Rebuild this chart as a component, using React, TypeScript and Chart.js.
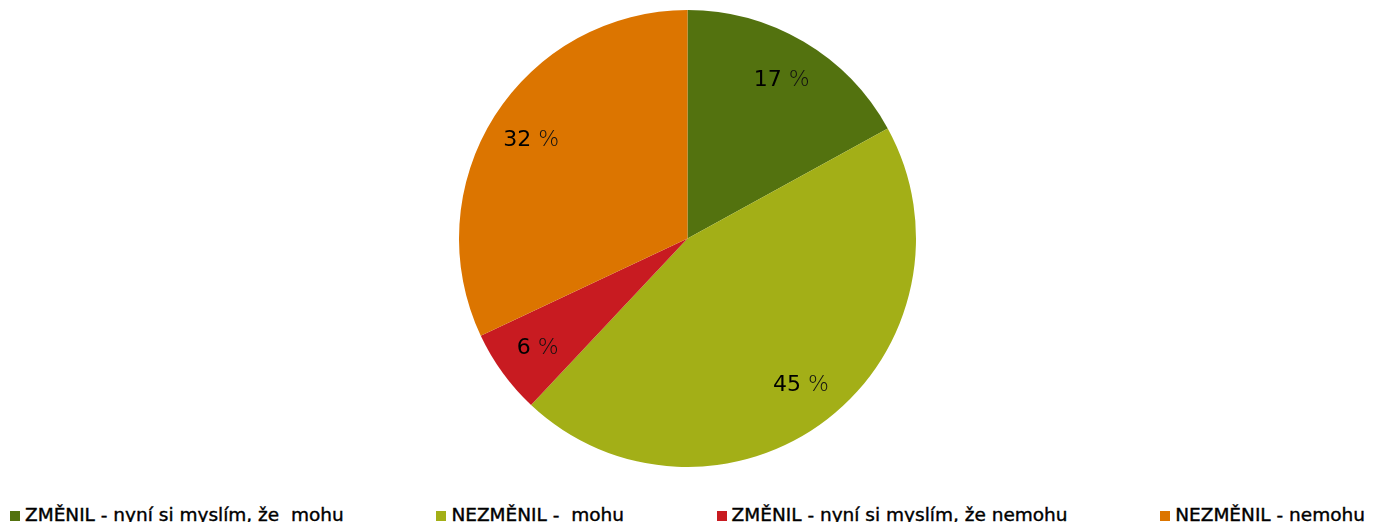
import React, { useEffect, useRef } from "react";
import { Chart, registerables } from "chart.js";

Chart.register(...registerables);

const categories = [
  "ZMĚNIL - nyní si myslím, že  mohu",
  "NEZMĚNIL -  mohu",
  "ZMĚNIL - nyní si myslím, že nemohu",
  "NEZMĚNIL - nemohu",
];
const values = [17, 45, 6, 32];
const colors = ["#53720F", "#A3AF17", "#C81B21", "#DC7500"];

const labelPlugin = {
  id: "sliceLabels",
  afterDatasetsDraw(chart: any) {
    const ctx = chart.ctx;
    const meta = chart.getDatasetMeta(0);
    meta.data.forEach((arc: any, i: number) => {
      const p = arc.getProps(["x", "y", "startAngle", "endAngle", "outerRadius"], true);
      const mid = (p.startAngle + p.endAngle) / 2;
      const r = p.outerRadius * 0.81;
      const cx = p.x + Math.cos(mid) * r;
      const cy = p.y + Math.sin(mid) * r + 1;
      const num = String(values[i]);
      const pct = " %";
      const numFont = "400 22px 'DejaVu Sans'";
      const pctFont = "200 22px 'DejaVu Sans'";
      ctx.save();
      ctx.textBaseline = "middle";
      ctx.font = numFont;
      const w1 = ctx.measureText(num).width;
      ctx.font = pctFont;
      const w2 = ctx.measureText(pct).width;
      const x0 = cx - (w1 + w2) / 2;
      ctx.textAlign = "left";
      ctx.font = numFont;
      ctx.fillStyle = "#000";
      ctx.fillText(num, x0, cy);
      ctx.font = pctFont;
      ctx.fillStyle = "#111";
      ctx.fillText(pct, x0 + w1, cy);
      ctx.restore();
    });
  },
};

export default function App() {
  const ref = useRef<HTMLCanvasElement | null>(null);
  useEffect(() => {
    if (!ref.current) return;
    const chart = new Chart(ref.current, {
      type: "pie",
      data: {
        labels: categories,
        datasets: [
          {
            data: values,
            backgroundColor: colors,
            borderWidth: 0,
          },
        ],
      },
      options: {
        animation: false,
        responsive: true,
        maintainAspectRatio: false,
        layout: { padding: { top: 2, right: 4, left: 0, bottom: 0 } },
        plugins: {
          legend: { display: false },
          tooltip: { enabled: false },
        },
      },
      plugins: [labelPlugin],
    });
    return () => chart.destroy();
  }, []);

  return (
    <div style={{ position: "relative", width: 1363, height: 514 }}>
      <div style={{ position: "relative", width: 1363, height: 459 }}>
        <canvas ref={ref} />
      </div>
      <div
        style={{
          position: "absolute",
          top: 497,
          left: 2,
          right: 6,
          display: "flex",
          justifyContent: "space-between",
          fontFamily: "'DejaVu Sans', sans-serif",
          fontSize: 18.5,
          lineHeight: "20px",
          color: "#000",
          whiteSpace: "pre",
          WebkitTextStroke: "0.4px #000",
        }}
      >
        {categories.map((c, i) => (
          <div key={i} style={{ display: "flex", alignItems: "flex-end" }}>
            <span
              style={{
                display: "inline-block",
                width: 10,
                height: 10,
                background: colors[i],
                marginRight: 5,
                marginBottom: 4,
              }}
            />
            <span>{c}</span>
          </div>
        ))}
      </div>
    </div>
  );
}
